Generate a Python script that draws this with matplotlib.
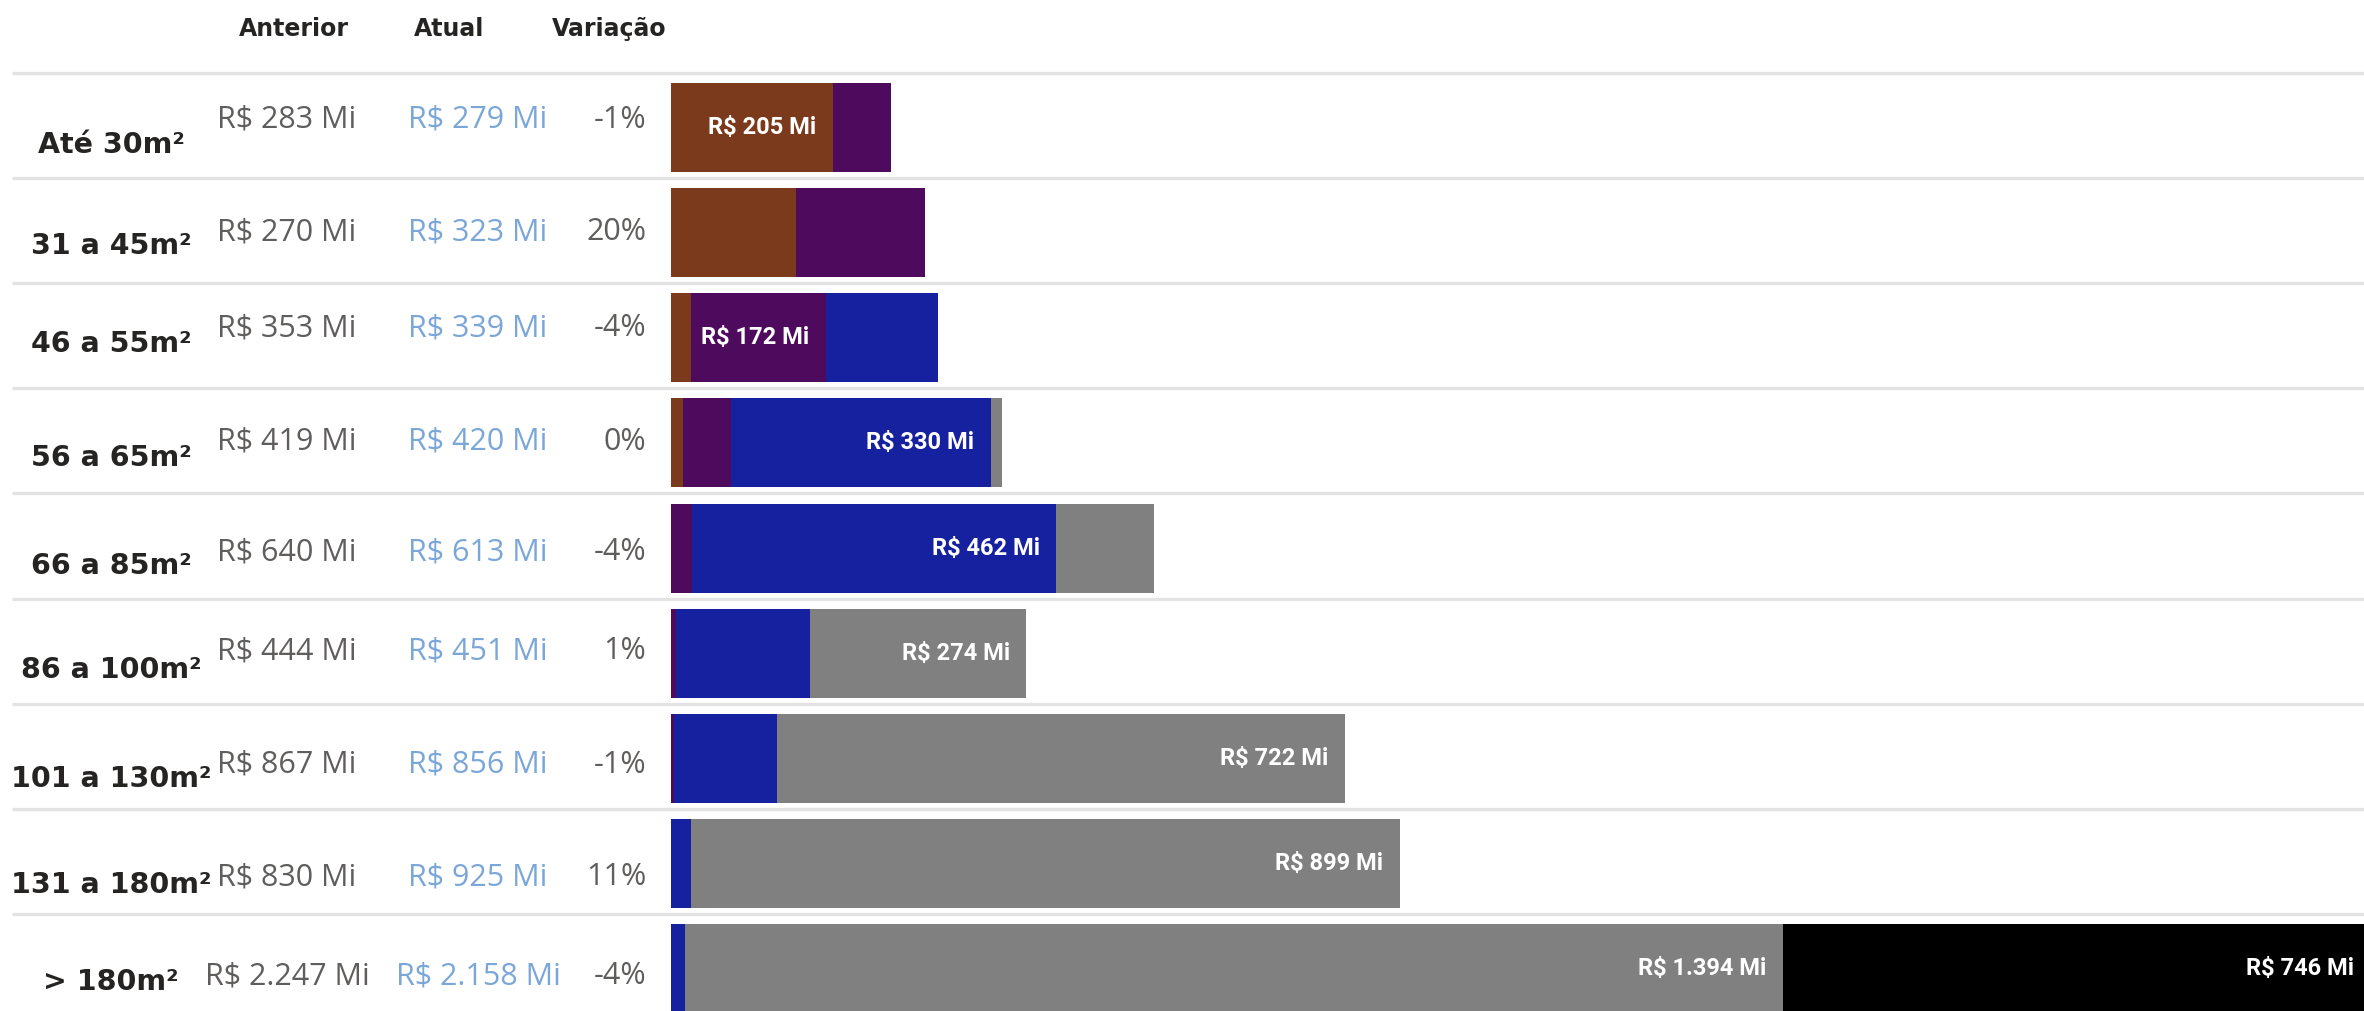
import matplotlib
matplotlib.use("Agg")
import matplotlib.pyplot as plt
import numpy as np

# data
categories = ["Até 30m²", "31 a 45m²", "46 a 55m²", "56 a 65m²", "66 a 85m²",
              "86 a 100m²", "101 a 130m²", "131 a 180m²", "> 180m²"]
anterior = ["R$ 283 Mi", "R$ 270 Mi", "R$ 353 Mi", "R$ 419 Mi", "R$ 640 Mi",
            "R$ 444 Mi", "R$ 867 Mi", "R$ 830 Mi", "R$ 2.247 Mi"]
atual = ["R$ 279 Mi", "R$ 323 Mi", "R$ 339 Mi", "R$ 420 Mi", "R$ 613 Mi",
         "R$ 451 Mi", "R$ 856 Mi", "R$ 925 Mi", "R$ 2.158 Mi"]
variacao = ["-1%", "20%", "-4%", "0%", "-4%", "1%", "-1%", "11%", "-4%"]

# stacked segments (R$ Mi) per row
seg_brown = [205, 159, 25, 15, 0, 0, 0, 0, 0]
seg_purple = [74, 164, 172, 61, 27, 6, 4, 0, 0]
seg_blue = [0, 0, 142, 330, 462, 171, 130, 26, 18]
seg_gray = [0, 0, 0, 14, 124, 274, 722, 899, 1394]
seg_black = [0, 0, 0, 0, 0, 0, 0, 0, 746]

SEGMENTS = [seg_brown, seg_purple, seg_blue, seg_gray, seg_black]
COLORS = ["#7b3a1c", "#4e0a5c", "#1621a0", "#808080", "#000000"]
LABEL_MIN = 172

# the table text in the screenshot does not sit at the same height in every row
VALUE_DY = [-0.07, 0.0, -0.09, -0.01, 0.04, -0.02, 0.06, 0.13, 0.07]
LABEL_DY = [0.17, 0.13, 0.06, 0.14, 0.17, 0.16, 0.19, 0.2, 0.12]

W, H = 2364, 1011
BAR_X0 = 671 / W
Y_TOP, Y_BOT = -1.21, 8.40

fig = plt.figure(figsize=(W / 100, H / 100), dpi=100)
fig.patch.set_facecolor("white")

ax_tbl = fig.add_axes([0, 0, 1, 1])
ax_tbl.set_xlim(0, 1)
ax_tbl.set_ylim(Y_BOT, Y_TOP)
ax_tbl.axis("off")

ax = fig.add_axes([BAR_X0, 0, 1 - BAR_X0, 1])
ax.set_xlim(0, 2149)
ax.set_ylim(Y_BOT, Y_TOP)
ax.axis("off")
ax.patch.set_alpha(0)

rows = np.arange(len(categories))

# row separators
for i in rows:
    ax_tbl.plot([12 / W, 1], [i - 0.52, i - 0.52], color="#e3e3e3", lw=2.4,
                solid_capstyle="butt", zorder=0)

# headers
head_kw = dict(fontsize=17, fontweight="bold", color="#252423",
               family="DejaVu Sans", va="center", ha="center")
ax_tbl.text(294 / W, -0.93, "Anterior", **head_kw)
ax_tbl.text(449 / W, -0.93, "Atual", **head_kw)
ax_tbl.text(609 / W, -0.93, "Variação", **head_kw)

# table columns
for i in rows:
    ax_tbl.text(111 / W, i + LABEL_DY[i], categories[i], fontsize=20.5,
                fontweight="bold", color="#252423", family="DejaVu Sans",
                ha="center", va="center")
    yv = i + VALUE_DY[i]
    ax_tbl.text(287 / W, yv, anterior[i], fontsize=22, color="#605e5c",
                family="Open Sans", ha="center", va="center")
    ax_tbl.text(478 / W, yv, atual[i], fontsize=22, color="#7aa6d8",
                family="Open Sans", ha="center", va="center")
    ax_tbl.text(646 / W, yv, variacao[i], fontsize=22, color="#605e5c",
                family="Open Sans", ha="right", va="center")

# stacked bars
left = np.zeros(len(categories))
for vals, col in zip(SEGMENTS, COLORS):
    vals = np.array(vals, dtype=float)
    ax.barh(rows, vals, left=left, height=0.845, color=col, linewidth=0, zorder=2)
    for i in rows:
        if vals[i] >= LABEL_MIN:
            end = left[i] + vals[i]
            v = f"{int(vals[i]):,}".replace(",", ".")
            ax.annotate(f"R$ {v} Mi", xy=(end, i), xytext=(-12, 0),
                        textcoords="offset points", ha="right", va="center",
                        fontsize=17, fontweight="bold", color="white",
                        family="Roboto", annotation_clip=False, zorder=3)
    left += vals

fig.savefig("out.png", dpi=100, facecolor="white")
